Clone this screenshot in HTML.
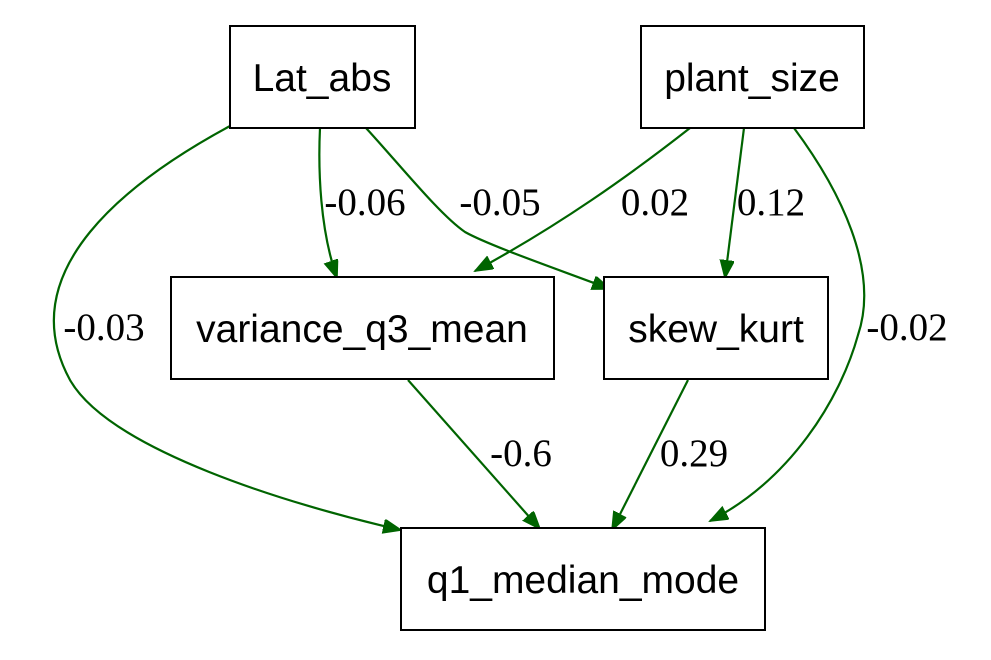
<!DOCTYPE html>
<html><head><style>body{margin:0;background:#fff}</style></head><body>
<svg width="991" height="655" viewBox="0 0 991 655" xmlns="http://www.w3.org/2000/svg">
<defs><marker id="a" markerWidth="20" markerHeight="16" refX="18" refY="7" orient="auto" markerUnits="userSpaceOnUse"><path d="M0,0 L18,7 L0,14 z" fill="#006400" stroke="#006400" stroke-width="1.5"/></marker></defs>
<g fill="none" stroke="#006400" stroke-width="2.2">
<path d="M230,126 C130,180 10,270 70,380 C110,450 290,505 401,530" marker-end="url(#a)"/>
<path d="M320,128 C318,170 320,230 337,278" marker-end="url(#a)"/>
<path d="M366,128 C400,165 440,215 465,232 C490,246 560,270 610,289" marker-end="url(#a)"/>
<path d="M690,128 C630,175 560,225 475,271" marker-end="url(#a)"/>
<path d="M744,128 L725,278" marker-end="url(#a)"/>
<path d="M794,128 C840,190 880,270 858,335 C840,400 790,480 710,521" marker-end="url(#a)"/>
<path d="M408,380 L540,529" marker-end="url(#a)"/>
<path d="M688,380 L612,530" marker-end="url(#a)"/>
</g>
<g fill="#fff" stroke="#000" stroke-width="2">
<rect x="230" y="26" width="185" height="102"/>
<rect x="641" y="26" width="223" height="102"/>
<rect x="171" y="277" width="383" height="102"/>
<rect x="604" y="277" width="224" height="102"/>
<rect x="401" y="528" width="364" height="102"/>
</g>
<g font-family="Liberation Sans, sans-serif" font-size="39" text-anchor="middle" fill="#000">
<text x="322" y="91">Lat_abs</text>
<text x="752" y="91">plant_size</text>
<text x="362" y="342">variance_q3_mean</text>
<text x="716" y="342">skew_kurt</text>
<text x="583" y="593">q1_median_mode</text>
</g>
<g font-family="Liberation Serif, serif" font-size="39" text-anchor="middle" fill="#000">
<text x="104" y="340">-0.03</text>
<text x="365" y="215">-0.06</text>
<text x="500" y="215">-0.05</text>
<text x="655" y="215">0.02</text>
<text x="771" y="215">0.12</text>
<text x="907" y="340">-0.02</text>
<text x="521" y="466">-0.6</text>
<text x="694" y="466">0.29</text>
</g>
</svg>
</body></html>
